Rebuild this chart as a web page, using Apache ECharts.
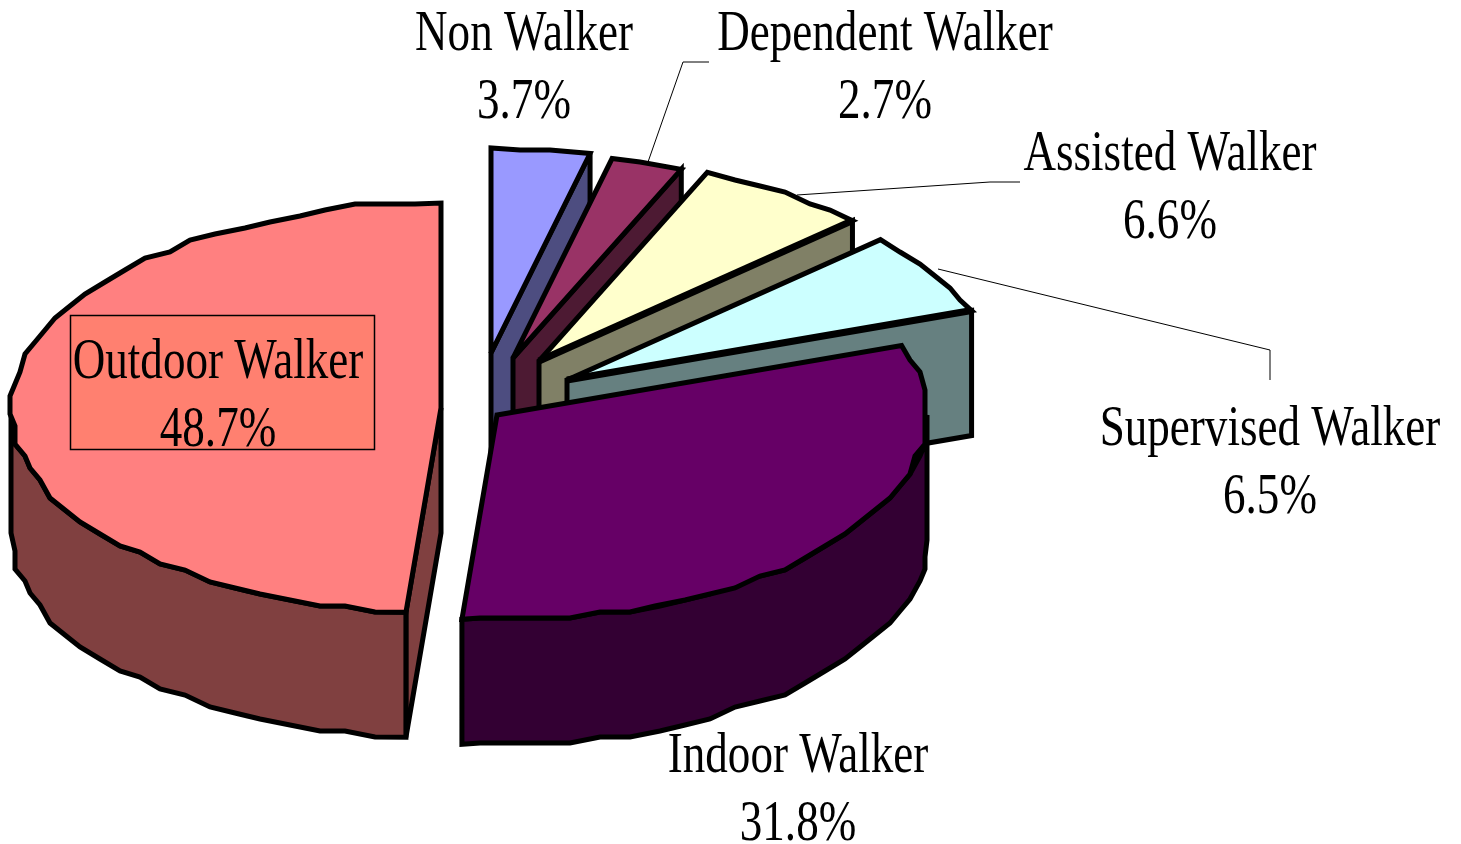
<!DOCTYPE html>
<html>
<head>
<meta charset="utf-8">
<style>
  html, body { margin: 0; padding: 0; background: #fff; }
  #chart { width: 1461px; height: 844px; }
</style>
<script src="https://cdn.jsdelivr.net/npm/echarts@6/dist/echarts.min.js"></script>
</head>
<body>
<div id="chart"></div>
<script>
// clockwise from 12 o'clock
const categories = ['Non Walker', 'Dependent Walker', 'Assisted Walker', 'Supervised Walker', 'Indoor Walker', 'Outdoor Walker'];
const values = [3.7, 2.7, 6.6, 6.5, 31.8, 48.7];

const topColors = ['#9999FF', '#993366', '#FFFFCC', '#CCFFFF', '#660066', '#FF8080'];
const sideColors = ['#4D4D80', '#4D1A33', '#808066', '#668080', '#330033', '#804040'];

// pie projection
const radiusX = 430;
const radiusY = 205;
const depth = 125;
// exploded tip of every slice
const tips = [[491, 353], [513, 358], [539, 361], [567, 380], [497, 415], [441, 408]];
// the front edges of the small slices are drawn heavier in the original
const edgeWidths = [5, 5, 7, 7, 5, 5];

// label layout: centre x, first baseline
const labelPos = [[524, 50], [885, 50], [1170, 170], [1270, 445], [798, 772], [218, 378]];
const leaderLines = [
  null,
  [[648, 162], [683, 62], [709, 62]],
  [[797, 195], [990, 182], [1020, 182]],
  [[938, 269], [1270, 350], [1270, 380]],
  null,
  null
];

const total = values.reduce((a, b) => a + b, 0);
const FONT = '56px "Liberation Serif"';
const TEXT_SCALE = 0.805;
const BASELINE_SHIFT = 43;
const LINE_GAP = 68;

function snap(v, q) {
  return Math.round(v / q) * q;
}

function rimPoint(tip, deg, dy) {
  const a = (deg * Math.PI) / 180;
  return [tip[0] + radiusX * Math.sin(a), tip[1] - radiusY * Math.cos(a) + (dy || 0)];
}

// the old metafile look: rim points fall on a coarse grid, so the edge is stepped
function rimPath(tip, from, to) {
  const pts = [rimPoint(tip, from)];
  const step = 4;
  for (let d = from + step; d < to - step / 2; d += step) {
    const p = rimPoint(tip, d);
    pts.push([snap(p[0], 5), snap(p[1], 6)]);
  }
  pts.push(rimPoint(tip, to));
  return pts;
}

function poly(points, fill) {
  return {
    type: 'polygon',
    shape: { points: points },
    style: { fill: fill, stroke: '#000', lineWidth: 5, lineJoin: 'miter', miterLimit: 3 }
  };
}

function textEl(str, x, y) {
  return {
    type: 'text',
    x: x,
    y: y - BASELINE_SHIFT,
    scaleX: TEXT_SCALE,
    style: { text: str, x: 0, y: 0, font: FONT, fill: '#000', align: 'center', verticalAlign: 'top' }
  };
}

function renderSlice(params, api) {
  const i = api.value(0);
  let before = 0;
  for (let k = 0; k < i; k++) before += values[k];
  const from = (before / total) * 360;
  const to = ((before + values[i]) / total) * 360;
  const tip = tips[i];
  const side = sideColors[i];
  const children = [];

  // radial walls, only those that face the viewer
  [[from, -1], [to, 1]].forEach(function (w) {
    if (Math.sin((w[0] * Math.PI) / 180) * w[1] > 0.001) {
      const p = rimPoint(tip, w[0]);
      children.push(poly([tip, p, [p[0], p[1] + depth], [tip[0], tip[1] + depth]], side));
    }
  });

  // outer wall, front half of the rim
  const wallFrom = Math.max(from, 90);
  const wallTo = Math.min(to, 270);
  if (wallTo > wallFrom) {
    const upper = rimPath(tip, wallFrom, wallTo);
    const lower = upper.map(function (p) { return [p[0], p[1] + depth]; }).reverse();
    children.push(poly(upper.concat(lower), side));
  }

  children.push(poly([tip].concat(rimPath(tip, from, to)), topColors[i]));
  if (edgeWidths[i] > 5) {
    children.push({
      type: 'line',
      shape: { x1: tip[0], y1: tip[1], x2: rimPoint(tip, to)[0], y2: rimPoint(tip, to)[1] },
      style: { stroke: '#000', lineWidth: edgeWidths[i] }
    });
  }
  return { type: 'group', children: children };
}

function renderLabel(params, api) {
  const i = api.value(0);
  const pos = labelPos[i];
  const children = [];
  if (categories[i] === 'Outdoor Walker') {
    children.push({
      type: 'rect',
      shape: { x: 70.5, y: 315.5, width: 304, height: 134 },
      style: { fill: '#FF8070', stroke: '#000', lineWidth: 1.5 }
    });
  }
  if (leaderLines[i]) {
    children.push({
      type: 'polyline',
      shape: { points: leaderLines[i] },
      style: { fill: 'none', stroke: '#000', lineWidth: 1 }
    });
  }
  children.push(textEl(categories[i], pos[0], pos[1]));
  children.push(textEl(values[i].toFixed(1) + '%', pos[0], pos[1] + LINE_GAP));
  return { type: 'group', children: children };
}

const chart = echarts.init(document.getElementById('chart'), null, { renderer: 'canvas' });
const rows = categories.map(function (c, i) { return [i, values[i]]; });

chart.setOption({
  animation: false,
  backgroundColor: '#fff',
  series: [
    { type: 'custom', coordinateSystem: 'none', data: rows, renderItem: renderSlice, silent: true, z: 2 },
    { type: 'custom', coordinateSystem: 'none', data: rows, renderItem: renderLabel, silent: true, z: 3 }
  ]
});

window.addEventListener('resize', function () { chart.resize(); });
</script>
</body>
</html>
